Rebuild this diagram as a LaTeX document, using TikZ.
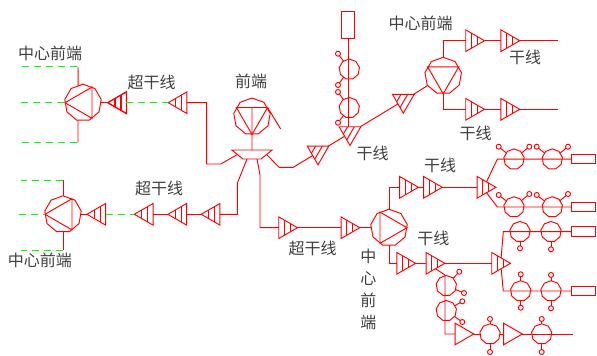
\documentclass[tikz,border=0pt]{standalone}
\usepackage{fontspec}
\setmainfont{Noto Sans CJK SC}
\usetikzlibrary{shapes.geometric,calc}

\tikzset{
  wire/.style={draw=red,line width=.95pt},
  feed/.style={draw=green,line width=.95pt,dash pattern=on 7pt off 5pt},
  ampl/.style={regular polygon,regular polygon sides=3,wire,minimum size=25pt,inner sep=0pt,outer sep=0pt},
  hub/.style={regular polygon,regular polygon sides=9,wire,minimum size=37pt,inner sep=0pt,outer sep=0pt},
  hubtri/.style={regular polygon,regular polygon sides=3,wire,minimum size=36pt,inner sep=0pt,outer sep=0pt},
  ext/.style={regular polygon,regular polygon sides=9,wire,minimum size=20.5pt,inner sep=0pt,outer sep=0pt},
  tapc/.style={circle,wire,minimum size=5pt,inner sep=0pt,outer sep=0pt},
  endbox/.style={rectangle,wire,minimum width=24pt,minimum height=9.5pt,inner sep=0pt,outer sep=0pt},
  splitter/.style={trapezium,trapezium left angle=39,trapezium right angle=39,shape border rotate=180,wire,minimum width=33pt,minimum height=9pt,inner sep=0pt,outer sep=0pt,font=\tiny},
  lab/.style={font=\fontsize{16}{22}\selectfont,text=black!75,inner sep=0pt},
}
\newcommand{\amplnode}[4][]{
  \node[ampl,rotate=#4,#1] (#2) at (#3) {};
  \draw[wire,#1] ($(#2.corner 2)!.3!(#2.corner 1)$) -- ($(#2.corner 3)!.3!(#2.corner 1)$);
  \draw[wire,#1] ($(#2.corner 2)!.61!(#2.corner 1)$) -- ($(#2.corner 3)!.61!(#2.corner 1)$);
}
\newcommand{\hubnode}[3]{
  \node[hub] (#1) at (#2) {};
  \node[hubtri,rotate=#3] (#1t) at (#2) {};
}
\newcommand{\tapnode}[3]{
  \node[tapc] (#1) at (#2) {};
  \draw[wire] (#3) -- (#1);
}

\begin{document}
\begin{tikzpicture}[x=1pt,y=-1pt]
  \useasboundingbox (0,0) rectangle (597,356);

  \node[lab] (lcenterA) at (50,53.3) {中心前端};
  \node[lab] (lsuperA) at (151.7,82.3) {超干线};
  \node[lab] (lfront) at (251,81.7) {前端};
  \node[lab] (lsuperB) at (159,188.3) {超干线};
  \node[lab] (lcenterB) at (40,260) {中心前端};
  \node[lab] (lsuperC) at (312.7,248.3) {超干线};
  \node[lab] (ltrunkA) at (372.7,153.3) {干线};
  \node[lab] (lcenterC) at (420.7,23.3) {中心前端};
  \node[lab] (ltrunkB) at (525,57.3) {干线};
  \node[lab] (ltrunkC) at (475.7,133.3) {干线};
  \node[lab] (ltrunkD) at (440,165.7) {干线};
  \node[lab] (ltrunkE) at (433.3,238.3) {干线};
  \node[lab,align=center] (lcenterD) at (368.3,289.5) {中\\心\\前\\端};

  % head end
  \hubnode{front}{252,116.5}{180}
  \node[splitter] (split) at (252,154.5) {\phantom{.}};
  \coordinate (ftail) at (280.7,129);
  \draw[wire] (frontt.side 2) -- (split.north);
  \draw[wire] (frontt.corner 2) -- (ftail);

  % upper left
  \hubnode{hubA}{83,102.7}{90}
  \coordinate (fa1) at (22,66.7);
  \coordinate (fa2) at (78,66.7);
  \coordinate (fa3) at (21,102.7);
  \coordinate (fa4) at (22,142.5);
  \coordinate (fa5) at (78,142.5);
  \draw[feed] (fa1) -- (fa2);
  \draw[feed] (fa3) -- (hubAt.corner 1);
  \draw[feed] (fa4) -- (fa5);
  \draw[wire] (fa2) -- (hubA.106);
  \draw[wire] (fa5) -- (hubA.254);
  \amplnode[line width=1.4pt]{ampA}{120.2,102.7}{90}
  \amplnode{ampB}{180.7,102.7}{90}
  \draw[wire] (hubA.east) -- (ampA.corner 1);
  \draw[feed] (ampA.side 2) -- (ampB.corner 1);
  \coordinate (ca1) at (206.7,164);
  \coordinate (ca2) at (220.7,164);
  \draw[wire] (ampB.side 2) -| (ca1) -- (ca2) -- (split.west);

  % lower left
  \hubnode{hubB}{63,214.3}{90}
  \coordinate (fb1) at (21,180);
  \coordinate (fb2) at (63,180);
  \coordinate (fb3) at (19,214.3);
  \coordinate (fb4) at (21,250);
  \coordinate (fb5) at (63,250);
  \draw[wire] (fb2) -- (hubB.north);
  \draw[wire] (fb5) -- (hubB.south);
  \draw[feed] (fb3) -- (hubBt.corner 1);
  \draw[feed] (fb2) -- (fb1);
  \draw[feed] (fb5) -- (fb4);
  \amplnode{ampC}{99.4,214.3}{90}
  \amplnode{ampD}{146.8,214.3}{90}
  \amplnode{ampE}{180.4,214.3}{90}
  \amplnode{ampF}{213.7,214.3}{90}
  \draw[wire] (hubB.east) -- (ampC.corner 1);
  \draw[feed] (ampC.side 2) -- (ampD.corner 1);
  \draw[wire] (ampD.side 2) -- (ampE.corner 1);
  \draw[wire] (ampE.side 2) -- (ampF.corner 1);
  \coordinate (cb1) at (237.3,183.3);
  \draw[wire] (ampF.side 2) -| (cb1) -- (split.222);

  % upper right
  \amplnode{ampG}{318,152.3}{60}
  \amplnode{ampH}{350,133}{60}
  \amplnode{ampI}{403.3,100.7}{60}
  \hubnode{hubC}{443.2,75.8}{180}
  \coordinate (cc1) at (279,167.3);
  \coordinate (cc2) at (293.3,167.3);
  \draw[wire] (split.east) -- (cc1) -- (cc2) -- (ampG);
  \draw[wire] (ampG) -- (ampH);
  \draw[wire] (ampH) -- (ampI);
  \draw[wire] (ampI) -- (hubC);
  \node[endbox,minimum width=12.7pt,minimum height=26.7pt] (boxA) at (348,25) {};
  \node[ext] (extA) at (349.3,69.3) {};
  \node[ext] (extB) at (349.3,107.7) {};
  \draw[wire] (boxA.south) -- (ampH.corner 1 -| boxA.south);
  \tapnode{tapA}{338,53.7}{extA}
  \tapnode{tapB}{338,85}{extA}
  \tapnode{tapC}{338,92}{extB}
  \tapnode{tapD}{338,122.7}{extB}
  \amplnode{ampJ}{472,40.7}{-90}
  \amplnode{ampK}{507.2,40.7}{-90}
  \amplnode{ampL}{472,109.3}{-90}
  \amplnode{ampM}{507.2,109.3}{-90}
  \coordinate (endA) at (558.3,40.7);
  \coordinate (endB) at (558.3,109.3);
  \draw[wire] (hubC.north) |- (ampJ.side 2);
  \draw[wire] (hubCt.corner 1) |- (ampL.side 2);
  \draw[wire] (ampJ.corner 1) -- (ampK.side 2);
  \draw[wire] (ampL.corner 1) -- (ampM.side 2);
  \draw[wire] (ampK.corner 1) -- (endA);
  \draw[wire] (ampM.corner 1) -- (endB);

  % lower right
  \amplnode{ampN}{285,227.7}{-90}
  \amplnode{ampO}{347.3,227.7}{-90}
  \hubnode{hubD}{389,227.7}{-90}
  \coordinate (cd1) at (260,175);
  \draw[wire] (split.318) -- (cd1) |- (ampN.side 2);
  \draw[wire] (ampN.corner 1) -- (ampO.side 2);
  \draw[wire] (ampO.corner 1) -- (hubD.west);
  \amplnode{ampP}{405.9,187.3}{-90}
  \amplnode{ampQ}{429.8,187.3}{-90}
  \amplnode{ampR}{483.4,187.3}{-90}
  \amplnode{ampS}{403.1,263.3}{-90}
  \amplnode{ampT}{432.3,263.3}{-90}
  \amplnode{ampU}{498,263.3}{-90}
  \draw[wire] (hubD.north) |- (ampP.side 2);
  \draw[wire] (ampP.corner 1) -- (ampQ.side 2);
  \draw[wire] (ampQ.corner 1) -- (ampR.side 2);
  \draw[wire] (hubD.south) |- (ampS.side 2);
  \draw[wire] (ampS.corner 1) -- (ampT.side 2);
  \draw[wire] (ampT.corner 1) -- (ampU.side 2);

  % branch rows
  \node[endbox] (boxB) at (583.2,159.2) {};
  \node[endbox] (boxC) at (583.2,207) {};
  \node[endbox] (boxD) at (583.7,231.7) {};
  \node[endbox] (boxE) at (583.7,291) {};
  \coordinate (ce1) at (497.3,159.2);
  \coordinate (ce2) at (497.3,207);
  \coordinate (ce3) at (503.3,231.7);
  \coordinate (ce4) at (503.3,291);
  \draw[wire] (ampR.side 1) -- (ce1) -- (boxB.west);
  \draw[wire] (ampR.side 3) -- (ce2) -- (boxC.west);
  \draw[wire] (ampU.side 1) -- (ce3) -- (boxD.west);
  \draw[wire] (ampU.side 3) -- (ce4) -- (boxE.west);
  \node[ext] (extC) at (514,159.2) {};
  \node[ext] (extD) at (552.3,159.2) {};
  \node[ext] (extE) at (514,207) {};
  \node[ext] (extF) at (552.3,207) {};
  \node[ext] (extG) at (520,231.7) {};
  \node[ext] (extH) at (551,231.7) {};
  \node[ext] (extI) at (520.7,291) {};
  \node[ext] (extJ) at (551,291) {};
  \tapnode{tapE}{498.7,146.7}{extC}
  \tapnode{tapF}{529.3,146.7}{extC}
  \tapnode{tapG}{536.7,146.7}{extD}
  \tapnode{tapH}{568,146.7}{extD}
  \tapnode{tapI}{498.7,195}{extE}
  \tapnode{tapJ}{529.3,194}{extE}
  \tapnode{tapK}{536.7,195}{extF}
  \tapnode{tapL}{568,194}{extF}
  \tapnode{tapM}{520,248.3}{extG}
  \tapnode{tapN}{551,249.3}{extH}
  \tapnode{tapO}{520.7,274.3}{extI}
  \tapnode{tapP}{551,275}{extJ}
  \tapnode{tapQ}{520.7,307.7}{extI}
  \tapnode{tapR}{551,308.3}{extJ}

  % bottom row
  \node[ampl,rotate=-90] (ampV) at (461.3,334) {};
  \node[ampl,rotate=-90] (ampW) at (509.8,334) {};
  \node[ext] (extK) at (446.3,285.7) {};
  \node[ext] (extL) at (446.3,310.7) {};
  \node[ext] (extM) at (490,334) {};
  \node[ext] (extN) at (541.7,334) {};
  \coordinate (cf1) at (445,275);
  \coordinate (endC) at (573.3,334);
  \draw[wire] (ampT.side 3) -- (cf1) |- (ampV.side 2);
  \draw[wire] (ampV.corner 1) -- (extM);
  \draw[wire] (extM) -- (ampW.side 2);
  \draw[wire] (ampW.corner 1) -- (endC);
  \draw[wire] (extN.west) -- (extN.east);
  \tapnode{tapS}{459.3,271.7}{extK}
  \tapnode{tapT}{464,293}{extK}
  \tapnode{tapU}{462.3,301.3}{extL}
  \tapnode{tapV}{462.3,322}{extL}
  \tapnode{tapW}{490,319}{extM}
  \tapnode{tapX}{490,352}{extM}
  \tapnode{tapY}{541.7,319}{extN}
  \tapnode{tapZ}{541.7,352}{extN}
\end{tikzpicture}
\end{document}
